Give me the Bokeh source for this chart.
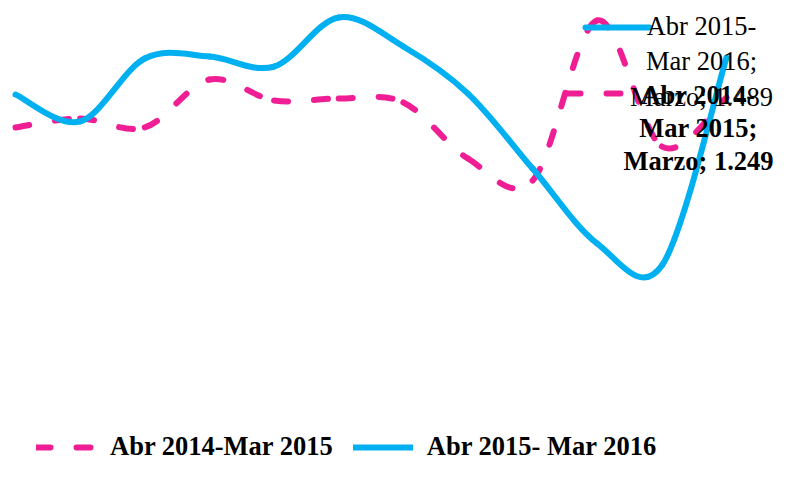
from bokeh.plotting import figure
from bokeh.models import Legend, LegendItem, Range1d, ColumnDataSource
from bokeh.embed import file_html
from bokeh.resources import INLINE
from bokeh.core.properties import value

# ---------------- data ----------------
months = ["Abr", "May", "Jun", "Jul", "Ago", "Sep", "Oct", "Nov", "Dic", "Ene", "Feb", "Mar"]
serie_2014 = [1.070, 1.124, 1.070, 1.357, 1.232, 1.243, 1.220, 0.884, 0.752, 1.711, 0.956, 1.249]
serie_2015 = [1.267, 1.106, 1.483, 1.495, 1.435, 1.729, 1.555, 1.273, 0.824, 0.375, 0.243, 1.489]
name_2014 = "Abr 2014-Mar 2015"
name_2015 = "Abr 2015- Mar 2016"
label_2014 = "Abr 2014-\nMar 2015;\nMarzo; 1.249"
label_2015 = "Abr 2015-\nMar 2016;\nMarzo; 1.489"

# ---------------- style ----------------
PINK = "#EF1E94"
CYAN = "#00B0F0"
W, H = 773, 466
X0, X1 = -0.2321, 11.727
Y0, Y1 = -0.9601, 1.8303
PX_X = W / (X1 - X0)
PX_Y = H / (Y1 - Y0)

p = figure(width=W, height=H, output_backend="svg", toolbar_location=None,
           x_range=Range1d(X0, X1), y_range=Range1d(Y0, Y1),
           min_border=0, min_border_left=0, min_border_right=0,
           min_border_top=0, min_border_bottom=0)
p.axis.visible = False
p.grid.visible = False
p.outline_line_color = None
p.background_fill_color = "white"
p.border_fill_color = "white"


def bezier_source(vals):
    n = len(vals)
    xs = list(range(n))
    d = dict(x0=[], y0=[], x1=[], y1=[], cx0=[], cy0=[], cx1=[], cy1=[])
    for i in range(n - 1):
        im1 = max(i - 1, 0)
        ip2 = min(i + 2, n - 1)
        d["x0"].append(xs[i]); d["y0"].append(vals[i])
        d["x1"].append(xs[i + 1]); d["y1"].append(vals[i + 1])
        d["cx0"].append(xs[i] + (xs[i + 1] - xs[im1]) / 6)
        d["cy0"].append(vals[i] + (vals[i + 1] - vals[im1]) / 6)
        d["cx1"].append(xs[i + 1] - (xs[ip2] - xs[i]) / 6)
        d["cy1"].append(vals[i + 1] - (vals[ip2] - vals[i]) / 6)
    return ColumnDataSource(d)


r_2014 = p.bezier(x0="x0", y0="y0", x1="x1", y1="y1", cx0="cx0", cy0="cy0",
                  cx1="cx1", cy1="cy1", source=bezier_source(serie_2014),
                  line_color=PINK, line_width=6, line_dash="14 26", line_cap="round")
r_2015 = p.bezier(x0="x0", y0="y0", x1="x1", y1="y1", cx0="cx0", cy0="cy0",
                  cx1="cx1", cy1="cy1", source=bezier_source(serie_2015),
                  line_color=CYAN, line_width=6, line_cap="round")

# data labels (with their legend keys) for the last point
xl = len(months) - 1
p.segment(x0=[xl - 141 / PX_X], y0=[serie_2015[-1] + 30 / PX_Y],
          x1=[xl - 77 / PX_X], y1=[serie_2015[-1] + 30 / PX_Y],
          line_color=CYAN, line_width=6, line_cap="round")
p.segment(x0=[xl - 160 / PX_X], y0=[serie_2014[-1] + 4 / PX_Y],
          x1=[xl - 102 / PX_X], y1=[serie_2014[-1] + 4 / PX_Y],
          line_color=PINK, line_width=6, line_cap="round", line_dash="14 26")

p.text(x=[xl], y=[serie_2015[-1]], text=[label_2015], x_offset=-25, y_offset=4,
       text_font=value("Liberation Serif"), text_font_size="26.5px",
       text_align="center", text_baseline="middle", text_color="#000000",
       text_line_height=1.17)
p.text(x=[xl], y=[serie_2014[-1]], text=[label_2014], x_offset=-28, y_offset=30,
       text_font=value("Liberation Serif"), text_font_size="26.5px", text_font_style="bold",
       text_align="center", text_baseline="middle", text_color="#000000",
       text_line_height=1.1)

legend = Legend(items=[LegendItem(label=name_2014, renderers=[r_2014]),
                       LegendItem(label=name_2015, renderers=[r_2015])],
                orientation="horizontal", location=(36, 4),
                label_text_font="Liberation Serif", label_text_font_size="26.5px",
                label_text_font_style="bold", label_text_color="#000000",
                glyph_width=60, glyph_height=20, label_standoff=14, spacing=20,
                padding=0, margin=0, border_line_color=None, background_fill_alpha=0)
p.add_layout(legend)

open("out.html", "w").write(file_html(p, INLINE))
